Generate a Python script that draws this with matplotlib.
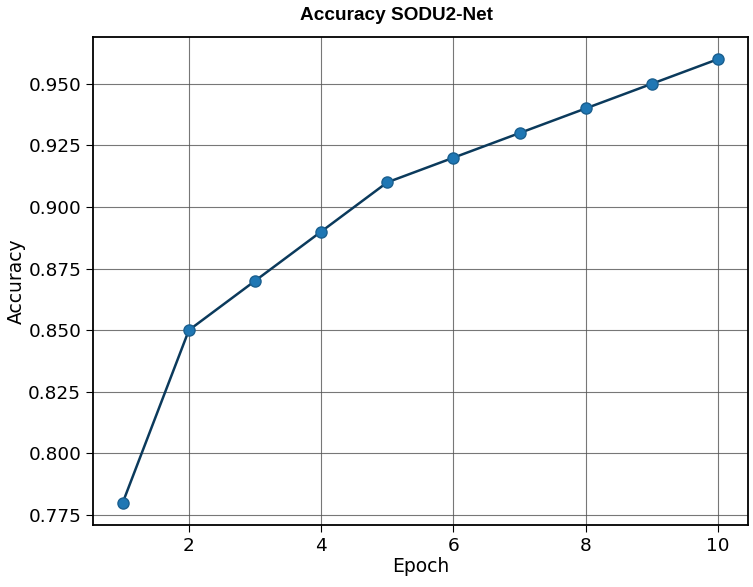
import matplotlib
matplotlib.use("Agg")
import matplotlib.pyplot as plt

epochs = [1, 2, 3, 4, 5, 6, 7, 8, 9, 10]
accuracy = [0.78, 0.85, 0.87, 0.89, 0.91, 0.92, 0.93, 0.94, 0.95, 0.96]

fig, ax = plt.subplots(figsize=(7.53, 5.87), dpi=100)
fig.subplots_adjust(left=0.1235, right=0.993, top=0.937, bottom=0.106)

ax.plot(epochs, accuracy, color="#0b3a5c", linewidth=1.8, zorder=3)
ax.plot(epochs, accuracy, linestyle="none", marker="o", markersize=8,
        markerfacecolor="#1f77b4", markeredgecolor="#1a5f8f", zorder=4)

# title sits a little left of the axes centre in the original
ax.set_title("Accuracy SODU2-Net", fontsize=13.7, fontweight="bold",
             family="Liberation Sans", x=0.464, pad=12)
ax.set_xlabel("Epoch", fontsize=13.5, labelpad=2)
ax.set_ylabel("Accuracy", fontsize=13.5, labelpad=2)
ax.tick_params(labelsize=13.3, length=5)
ax.grid(True, color="#555555", linewidth=0.8, alpha=0.8)
for s in ax.spines.values():
    s.set_linewidth(1.3)

plt.savefig("out.png")
